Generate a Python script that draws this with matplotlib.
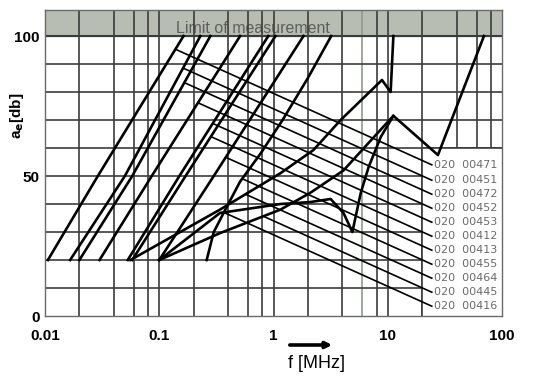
"""Attenuation a_e vs frequency for the 020 004xx filter family (log f axis)."""
import numpy as np
import matplotlib
matplotlib.use("Agg")
import matplotlib.pyplot as plt  # noqa: E402

plt.rcParams['font.family'] = ['Liberation Sans', 'DejaVu Sans']
plt.rcParams['mathtext.default'] = 'bf'

# curves: f [MHz] / a_e [dB]
S1_X = [0.0106, 0.029, 0.163]; S1_Y = [20, 50, 100]
S2_X = [0.0166, 0.050, 0.229]; S2_Y = [20, 50, 100]
S3_X = [0.020, 0.058, 0.280]; S3_Y = [20, 50, 100]
S4_X = [0.030, 0.086, 0.510]; S4_Y = [20, 50, 100]
S5_X = [0.053, 0.150, 0.900]; S5_Y = [20, 50, 100]
S6_X = [0.058, 0.170, 1.040]; S6_Y = [20, 50, 100]
S7_X = [0.100, 0.300, 1.830]; S7_Y = [20, 50, 100]
S8_X = [0.26, 0.30, 0.39, 0.51, 0.77, 1.2, 2.0, 3.2]
S8_Y = [20, 30, 39, 48, 58, 70, 85, 100]
Q1_X = [0.056, 0.34, 1.15, 2.24, 3.87, 8.9, 10.6, 11.2]
Q1_Y = [20, 38, 51, 59.3, 70, 84.3, 80, 100]
Q2_X = [0.10, 0.34, 1.15, 2.1, 4.1, 7.6, 11.2, 27.5, 69.5]
Q2_Y = [20, 29.6, 38, 44, 52, 64, 71.5, 57.5, 100]
Q3_X = [0.10, 0.34, 1.15, 2.1, 3.16, 4.1, 4.9, 5.8, 6.8, 8.7, 11.2]
Q3_Y = [20, 36.8, 40, 40.7, 41.8, 36.8, 30, 43.9, 53.2, 64, 71.5]

CURVES = [(S1_X, S1_Y), (S2_X, S2_Y), (S3_X, S3_Y), (S4_X, S4_Y),
          (S5_X, S5_Y), (S6_X, S6_Y), (S7_X, S7_Y), (S8_X, S8_Y),
          (Q1_X, Q1_Y), (Q2_X, Q2_Y), (Q3_X, Q3_Y)]

LABELS = ["020  00471", "020  00451", "020  00472", "020  00452",
          "020  00453", "020  00412", "020  00413", "020  00455",
          "020  00464", "020  00445", "020  00416"]
LABEL_Y = [54, 48.5, 43.5, 38.5, 33.5, 28.5, 23.5, 18.5, 13.5, 8.5, 3.5]
LEADER_END = 24.3      # MHz, where leader lines touch the labels
LEADER_SLOPE = 18.4    # dB per decade (leaders fall to the right)

X_TICKS = [0.01, 0.1, 1, 10, 100]
X_TICKLABELS = ["0.01", "0.1", "1", "10", "100"]
Y_TICKS = [0, 50, 100]
LIMIT = 100
YMAX = 109.3

GRID = '#3c3c3c'


def leader_start(cx, cy, yl):
    # first point where the leader line meets its curve (in log-f space)
    lx = np.log10(cx)
    g = np.linspace(lx[0], lx[-1], 4000)
    c = np.interp(g, lx, cy)
    l = yl + LEADER_SLOPE * (np.log10(LEADER_END) - g)
    d = c - l
    idx = np.where(np.diff(np.sign(d)) != 0)[0]
    i = idx[0] if len(idx) else len(g) - 1
    return 10 ** g[i], l[i]


fig = plt.figure(figsize=(5.5, 3.82), dpi=100)
ax = fig.add_axes([45 / 550, 1 - 316 / 382, 457 / 550, 306 / 382])
ax.set_xscale('log')
ax.set_xlim(0.01, 100)
ax.set_ylim(0, YMAX)

# "limit of measurement" band
ax.axhspan(LIMIT, YMAX, color='#b7bdb3', zorder=0)
ax.text(0.655, 101.2, "Limit of measurement", ha='center', va='baseline',
        fontsize=11.5, color='#5e5e5e', zorder=1)

# grid: 1-2-4-6-8 per decade, every 10 dB
for e in range(-2, 2):
    for m in (1, 2, 4, 6, 8):
        col = '#8f9a8f' if (m == 6 and e == 0) else GRID
        ax.axvline(m * 10 ** e, color=col, lw=1.2, zorder=1)
for yv in range(10, 101, 10):
    ax.axhline(yv, color=GRID, lw=1.2 if yv < 100 else 1.5, zorder=1)

# white label box (covers the grid)
ax.fill_between([20, 100], 0, 60, facecolor='white', edgecolor='none', zorder=2)
ax.plot([20, 20], [0, 60], color=GRID, lw=1.2, zorder=2)
ax.plot([20, 100], [60, 60], color=GRID, lw=1.2, zorder=2)

for (cx, cy), lab, yl in zip(CURVES, LABELS, LABEL_Y):
    ax.plot(cx, cy, color='black', lw=1.9, zorder=4, solid_joinstyle='round')
    x0, y0 = leader_start(cx, cy, yl)
    ax.plot([x0, LEADER_END], [y0, yl], color='black', lw=1.2, zorder=3)
    ax.text(25.5, yl, lab, fontsize=8, color='#6a6a6a', va='center', ha='left',
            family='DejaVu Sans', zorder=5)

ax.set_xticks(X_TICKS)
ax.set_xticklabels(X_TICKLABELS, fontweight='bold', fontsize=11)
ax.set_xticks([], minor=True)
ax.set_yticks(Y_TICKS)
ax.set_yticklabels([str(v) for v in Y_TICKS], fontweight='bold', fontsize=11)
ax.tick_params(axis='both', length=0)
ax.tick_params(axis='x', pad=9)
ax.tick_params(axis='y', pad=4)
for s in ax.spines.values():
    s.set_color('#6a6a6a')
    s.set_linewidth(1.0)

fig.text(17 / 550, 1 - 116 / 382, r"a$_e$[db]", rotation=90, ha='center',
         va='center', fontsize=11, fontweight='bold')
fig.text(317 / 550, 1 - 363 / 382, "f [MHz]", ha='center', va='center',
         fontsize=13)
fig.patches.append(matplotlib.patches.FancyArrowPatch(
    (287 / 550, 1 - 345 / 382), (335 / 550, 1 - 345 / 382),
    transform=fig.transFigure, arrowstyle='-|>', mutation_scale=9,
    lw=2.6, color='black'))

fig.savefig("out.png", dpi=100)
